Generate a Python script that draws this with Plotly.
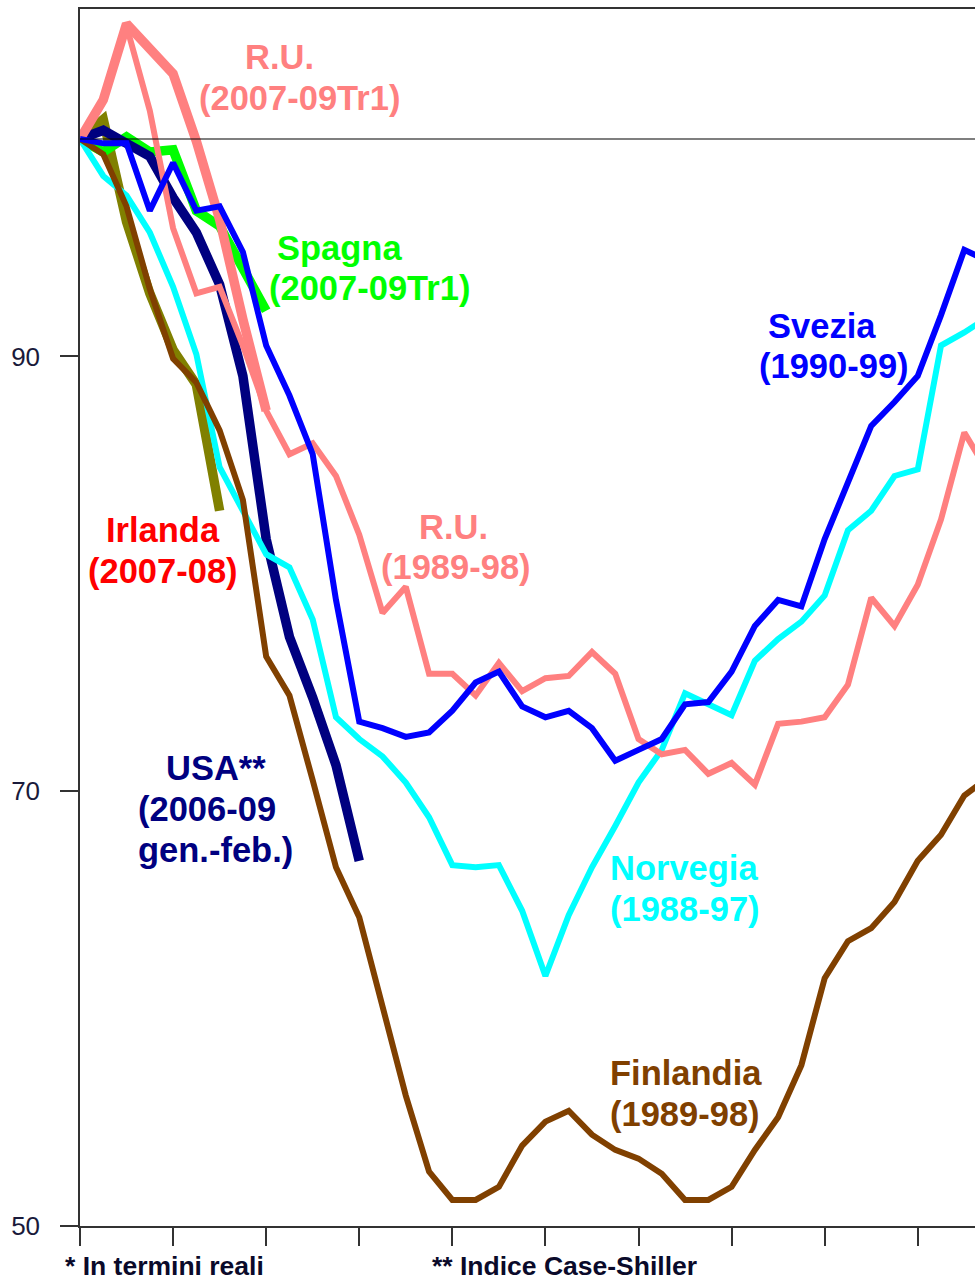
import plotly.graph_objects as go

# Quarterly real house-price indices (start of episode = 100)
svezia = [100, 99.8, 99.8, 96.7, 98.9, 96.7, 96.9, 94.8, 90.5, 88.2, 85.5, 78.8, 73.2, 72.9,
          72.5, 72.7, 73.7, 75.0, 75.5, 73.9, 73.4, 73.7, 72.9, 71.4, 71.9, 72.4, 74.0, 74.1,
          75.5, 77.6, 78.8, 78.5, 81.6, 84.2, 86.8, 87.9, 89.1, 91.9, 94.9, 94.4]
norvegia = [100, 98.3, 97.4, 95.7, 93.2, 90.1, 84.9, 82.9, 80.9, 80.3, 77.9, 73.4, 72.4, 71.6,
            70.4, 68.8, 66.6, 66.5, 66.6, 64.5, 61.5, 64.3, 66.5, 68.4, 70.4, 71.9, 74.5, 74.0,
            73.5, 76.0, 77.0, 77.8, 79.0, 82.0, 82.9, 84.5, 84.8, 90.5, 91.1, 91.8]
finlandia = [100, 99.3, 96.9, 93.1, 89.9, 88.8, 86.6, 83.4, 76.2, 74.4, 70.5, 66.5, 64.2, 60.2,
             56.0, 52.5, 51.2, 51.2, 51.8, 53.7, 54.8, 55.3, 54.2, 53.5, 53.1, 52.4, 51.2, 51.2,
             51.8, 53.5, 55.0, 57.4, 61.4, 63.1, 63.7, 64.9, 66.8, 68.0, 69.8, 70.6]
ru_1989 = [100, 101.7, 105.2, 101.3, 95.9, 92.9, 93.2, 90.5, 87.5, 85.5, 86.0, 84.5, 81.8, 78.2,
           79.4, 75.4, 75.4, 74.4, 75.9, 74.6, 75.2, 75.3, 76.4, 75.4, 72.4, 71.7, 71.9, 70.8,
           71.3, 70.3, 73.1, 73.2, 73.4, 74.9, 78.9, 77.6, 79.5, 82.5, 86.5, 84.7]
ru_2007 = [100, 101.8, 105.3, 104.1, 103.0, 99.9, 96.3, 91.7, 87.5]
spagna = [100, 99.4, 100.1, 99.4, 99.5, 96.7, 96.0, 94.0, 92.1]
irlanda = [100, 100.9, 96.2, 92.9, 90.3, 88.7, 82.9]
usa = [100, 100.4, 99.8, 99.2, 97.3, 95.7, 93.3, 89.1, 81.6, 77.1, 74.3, 71.2, 66.8]

y_ticks = [50, 70, 90]
x_year_ticks = [0, 4, 8, 12, 16, 20, 24, 28, 32, 36]

series = [
    # name, values, colour, width
    ("Irlanda (2007-08)", irlanda, "#808000", 9.5),
    ("Spagna (2007-09Tr1)", spagna, "#00FF00", 9.5),
    ("USA (2006-09)", usa, "#000080", 9.5),
    ("R.U. (2007-09Tr1)", ru_2007, "#FF8080", 9.5),
    ("Norvegia (1988-97)", norvegia, "#00FFFF", 6),
    ("Finlandia (1989-98)", finlandia, "#804000", 6),
    ("R.U. (1989-98)", ru_1989, "#FF8080", 6),
    ("Svezia (1990-99)", svezia, "#0000FF", 6),
]

fig = go.Figure()
for name, vals, col, w in series:
    fig.add_trace(go.Scatter(x=list(range(len(vals))), y=vals, mode="lines", name=name,
                             line=dict(color=col, width=w), showlegend=False))

FONT = "Liberation Sans, Arial, sans-serif"
labels = [
    ("R.U.", 8.59, 103.77, "#FF8080"),
    ("(2007-09Tr1)", 9.45, 101.88, "#FF8080"),
    ("Spagna", 11.17, 94.99, "#00FF00"),
    ("(2007-09Tr1)", 12.46, 93.15, "#00FF00"),
    ("Irlanda", 3.57, 82.0, "#FF0000"),
    ("(2007-08)", 3.57, 80.13, "#FF0000"),
    ("USA**", 5.84, 71.07, "#000080"),
    ("(2006-09", 5.46, 69.18, "#000080"),
    ("gen.-feb.)", 5.84, 67.3, "#000080"),
    ("R.U.", 16.07, 82.15, "#FF8080"),
    ("(1989-98)", 16.16, 80.31, "#FF8080"),
    ("Svezia", 31.89, 91.4, "#0000FF"),
    ("(1990-99)", 32.4, 89.56, "#0000FF"),
    ("Norvegia", 25.96, 66.47, "#00FFFF"),
    ("(1988-97)", 26.0, 64.58, "#00FFFF"),
    ("Finlandia", 26.04, 57.04, "#804000"),
    ("(1989-98)", 26.0, 55.15, "#804000"),
]
for txt, x, y, col in labels:
    fig.add_annotation(x=x, y=y, text=txt, showarrow=False, xanchor="center", yanchor="middle",
                       font=dict(family=FONT, size=34.5, color=col, weight="bold"))

for txt, px in [("* In termini reali", -0.019), ("** Indice Case-Shiller", 0.391)]:
    fig.add_annotation(xref="paper", yref="paper", x=px, y=-0.0329, text=txt, showarrow=False,
                       xanchor="left", yanchor="middle",
                       font=dict(family=FONT, size=26.5, color="#0a0a2a", weight="bold"))

fig.add_shape(type="line", xref="paper", x0=0, x1=1, yref="y", y0=100, y1=100,
              line=dict(color="#000000", width=1.2))

fig.update_layout(
    width=975, height=1280,
    margin=dict(l=80, r=0, t=9, b=54),
    paper_bgcolor="white", plot_bgcolor="white",
    xaxis=dict(range=[0, 38.46], tickvals=x_year_ticks, showticklabels=False, ticks="outside",
               ticklen=18, tickcolor="#333333", tickwidth=1.5, showgrid=False, zeroline=False,
               showline=True, linecolor="#333333", linewidth=1.5, mirror=True),
    yaxis=dict(range=[50, 105.98], tickvals=y_ticks, ticks="outside", ticklen=18,
               tickcolor="#333333", tickwidth=1.5, showgrid=False, zeroline=False,
               showline=True, linecolor="#333333", linewidth=1.5,
               ticklabelstandoff=15,
               tickfont=dict(family=FONT, size=26, color="#1a1a3a")),
)

# remove the default page margin so the 975x1280 figure fills the window exactly
fig.write_html("out.html", config={"displayModeBar": False},
               post_script="document.body.style.margin='0';document.body.style.overflow='hidden';")
